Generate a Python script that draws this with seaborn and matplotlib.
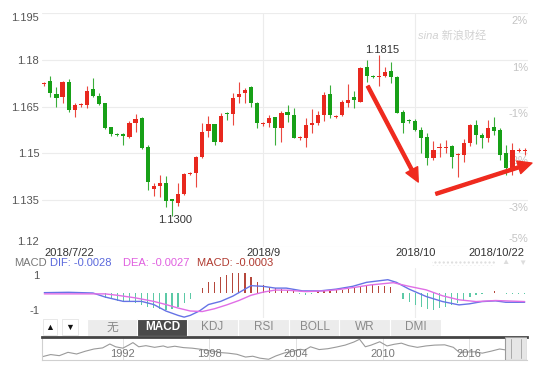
import numpy as np
import pandas as pd
import matplotlib.pyplot as plt
import matplotlib.transforms as mtrans
import seaborn as sns
from matplotlib.patches import Rectangle

sns.set_style('white')
plt.rcParams['font.family'] = ['Liberation Sans', 'Noto Sans CJK SC', 'DejaVu Sans']

W, H = 549, 367


def box(x0, y0, x1, y1):
    # pixel box -> figure fraction rect
    return [x0 / W, 1 - y1 / H, (x1 - x0) / W, (y1 - y0) / H]


# daily EUR/USD candles, 2018/7/22 - 2018/10/22
opens = [1.1722, 1.1733, 1.1691, 1.1680, 1.1730, 1.1639, 1.1654, 1.1656, 1.1707, 1.1684,
         1.1662, 1.1584, 1.1563, 1.1561, 1.1554, 1.1597, 1.1613, 1.1520, 1.1385, 1.1396,
         1.1406, 1.1352, 1.1342, 1.1370, 1.1434, 1.1438, 1.1489, 1.1573, 1.1594, 1.1538,
         1.1631, 1.1627, 1.1680, 1.1695, 1.1713, 1.1662, 1.1593, 1.1597, 1.1616, 1.1581,
         1.1634, 1.1623, 1.1548, 1.1549, 1.1592, 1.1599, 1.1623, 1.1691, 1.1618, 1.1623,
         1.1663, 1.1680, 1.1666, 1.1779, 1.1750, 1.1745, 1.1749, 1.1766, 1.1746, 1.1634,
         1.1605, 1.1604, 1.1575, 1.1552, 1.1484, 1.1516, 1.1516, 1.1524, 1.1495, 1.1495,
         1.1533, 1.1591, 1.1559, 1.1548, 1.1585, 1.1575, 1.1500, 1.1452, 1.1508, 1.1509]
highs = [1.1730, 1.1749, 1.1714, 1.1734, 1.1738, 1.1662, 1.1661, 1.1716, 1.1741, 1.1695,
         1.1663, 1.1586, 1.1566, 1.1566, 1.1605, 1.1627, 1.1618, 1.1527, 1.1404, 1.1431,
         1.1427, 1.1352, 1.1406, 1.1437, 1.1440, 1.1492, 1.1598, 1.1620, 1.1596, 1.1630,
         1.1633, 1.1693, 1.1730, 1.1709, 1.1717, 1.1665, 1.1601, 1.1623, 1.1617, 1.1637,
         1.1655, 1.1645, 1.1555, 1.1613, 1.1642, 1.1636, 1.1698, 1.1720, 1.1624, 1.1671,
         1.1722, 1.1701, 1.1778, 1.1800, 1.1751, 1.1815, 1.1778, 1.1795, 1.1750, 1.1639,
         1.1611, 1.1610, 1.1586, 1.1565, 1.1540, 1.1532, 1.1543, 1.1527, 1.1500, 1.1545,
         1.1594, 1.1607, 1.1565, 1.1607, 1.1618, 1.1582, 1.1527, 1.1532, 1.1516, 1.1518]
lows = [1.1718, 1.1682, 1.1650, 1.1662, 1.1634, 1.1618, 1.1649, 1.1646, 1.1682, 1.1655,
        1.1577, 1.1556, 1.1555, 1.1527, 1.1549, 1.1570, 1.1514, 1.1382, 1.1363, 1.1361,
        1.1327, 1.1300, 1.1331, 1.1367, 1.1431, 1.1392, 1.1485, 1.1552, 1.1527, 1.1537,
        1.1607, 1.1591, 1.1661, 1.1661, 1.1649, 1.1582, 1.1588, 1.1584, 1.1527, 1.1538,
        1.1602, 1.1548, 1.1544, 1.1522, 1.1565, 1.1590, 1.1605, 1.1613, 1.1615, 1.1620,
        1.1650, 1.1645, 1.1666, 1.1730, 1.1743, 1.1718, 1.1745, 1.1725, 1.1629, 1.1567,
        1.1598, 1.1573, 1.1500, 1.1463, 1.1480, 1.1490, 1.1500, 1.1452, 1.1425, 1.1473,
        1.1524, 1.1530, 1.1517, 1.1538, 1.1560, 1.1480, 1.1430, 1.1430, 1.1505, 1.1495]
closes = [1.1727, 1.1693, 1.1677, 1.1728, 1.1639, 1.1655, 1.1656, 1.1701, 1.1684, 1.1659,
          1.1583, 1.1561, 1.1558, 1.1555, 1.1599, 1.1610, 1.1518, 1.1409, 1.1396, 1.1406,
          1.1348, 1.1347, 1.1370, 1.1434, 1.1437, 1.1489, 1.1570, 1.1594, 1.1538, 1.1620,
          1.1626, 1.1677, 1.1691, 1.1704, 1.1662, 1.1598, 1.1596, 1.1613, 1.1581, 1.1631,
          1.1623, 1.1549, 1.1551, 1.1591, 1.1599, 1.1623, 1.1688, 1.1623, 1.1621, 1.1666,
          1.1671, 1.1672, 1.1773, 1.1749, 1.1745, 1.1748, 1.1762, 1.1746, 1.1631, 1.1599,
          1.1603, 1.1575, 1.1548, 1.1484, 1.1511, 1.1518, 1.1518, 1.1489, 1.1497, 1.1533,
          1.1591, 1.1559, 1.1549, 1.1581, 1.1573, 1.1495, 1.1452, 1.1511, 1.1510, 1.1511]

date_ticks = [0, 36, 61, 79]
date_labels = ['2018/7/22', '2018/9', '2018/10', '2018/10/22']
price_ticks = [1.12, 1.135, 1.15, 1.165, 1.18, 1.195]
price_labels = ['1.12', '1.135', '1.15', '1.165', '1.18', '1.195']
pct_labels = ['-5%', '-3%', '-2%', '-1%', '1%', '2%']

# MACD panel (normalised scale)
macd_hist = [0.05, 0.04, 0.05, 0.04, 0.02, 0.01, 0, 0, 0, -0.02,
             -0.3, -0.38, -0.45, -0.48, -0.55, -0.6, -0.68, -0.8, -0.88, -0.95,
             -1.0, -0.95, -0.8, -0.62, -0.38, 0, 0.29, 0.59, 0.63, 0.88,
             1.01, 1.1, 1.15, 1.1, 0.88, 0.6, 0.45, 0.32, 0.25, 0.2,
             0.15, 0.15, -0.1, -0.12, -0.08, 0.08, 0.1, 0.12, 0.15, 0.15,
             0.2, 0.25, 0.3, 0.38, 0.42, 0.4, 0.38, 0.3, 0, -0.38,
             -0.51, -0.7, -0.8, -0.95, -1.0, -0.9, -0.8, -0.7, -0.57, -0.42,
             -0.27, -0.13, -0.08, 0, 0.08, 0, -0.08, -0.08, -0.08, -0.08]
dif_x = [0, 4, 8, 10, 13, 16, 18, 20, 22, 23, 24, 25.5, 27, 29, 31, 33, 34, 36, 38,
         39.8, 42.5, 45.3, 48, 50.7, 53, 56.5, 57.9, 60, 62.8, 65.5, 68.2, 69.9, 72, 74.2, 75.9, 79]
dif_y = [0.0, 0.02, -0.02, -0.25, -0.5, -0.5, -0.68, -1.05, -1.3, -1.4, -1.3, -1.05, -0.68, -0.5,
         -0.2, 0.2, 0.4, 0.36, 0.26, 0.26, 0.1, 0.1, 0.2, 0.36, 0.59, 0.74, 0.59, 0.2, -0.22,
         -0.51, -0.7, -0.64, -0.51, -0.47, -0.55, -0.55]
dea_x = [0, 10, 12, 15, 18, 20, 22, 24, 26, 28, 30, 32, 34, 36, 38, 40, 43, 46, 48, 51,
         53.6, 57.4, 60, 62.8, 65.5, 68.2, 71, 74.2, 79]
dea_y = [-0.07, -0.07, -0.15, -0.3, -0.5, -0.68, -0.88, -1.05, -1.08, -0.92, -0.7, -0.45,
         -0.15, 0.03, 0.15, 0.14, 0.06, 0.1, 0.16, 0.3, 0.44, 0.57, 0.36, 0.16, -0.18, -0.41,
         -0.51, -0.45, -0.51]

# long-history navigator
nav_year = [1986.4, 1987.0, 1987.6, 1988.2, 1988.8, 1989.4, 1990.0, 1990.6, 1991.1, 1991.5,
            1992.0, 1992.4, 1992.7, 1993.1, 1993.6, 1994.2, 1994.8, 1995.1, 1995.6, 1996.2,
            1996.8, 1997.4, 1998.0, 1998.5, 1998.8, 1999.3, 1999.9, 2000.5, 2001.0, 2001.5,
            2002.1, 2002.6, 2003.2, 2003.8, 2004.3, 2004.6, 2005.0, 2005.6, 2006.2, 2006.8,
            2007.4, 2008.0, 2008.4, 2008.8, 2009.2, 2009.8, 2010.3, 2010.8, 2011.3, 2011.8,
            2012.4, 2013.0, 2013.6, 2014.3, 2014.9, 2015.3, 2015.8, 2016.4, 2016.9, 2017.5,
            2018.1, 2018.6, 2019.4]
nav_price = [0.94, 1.02, 0.98, 1.10, 1.04, 1.14, 1.22, 1.26, 1.40, 1.30,
             1.25, 1.36, 1.45, 1.30, 1.34, 1.28, 1.33, 1.28, 1.32, 1.27,
             1.25, 1.21, 1.16, 1.12, 1.09, 1.07, 1.03, 0.93, 0.96, 0.89,
             0.85, 0.97, 1.08, 1.14, 1.21, 1.18, 1.30, 1.20, 1.23, 1.29,
             1.36, 1.47, 1.57, 1.30, 1.36, 1.48, 1.33, 1.39, 1.43, 1.34,
             1.28, 1.33, 1.36, 1.37, 1.28, 1.10, 1.11, 1.12, 1.07, 1.14,
             1.22, 1.18, 1.17]
nav_years = [1992, 1998, 2004, 2010, 2016]

tabs = ['无', 'MACD', 'KDJ', 'RSI', 'BOLL', 'WR', 'DMI']

RED = '#e8281e'
GREEN = '#17a017'

fig = plt.figure(figsize=(W / 100, H / 100), dpi=100)

# ---------------- candles ----------------
ax = fig.add_axes(box(42, 13.3, 528, 246.8))
df = pd.DataFrame({'o': opens, 'h': highs, 'l': lows, 'c': closes})
df['x'] = np.arange(len(df))
cols = np.where(df['c'] >= df['o'], RED, GREEN)

for p in price_ticks:
    ax.axhline(p, color='#ececec', lw=0.8, zorder=0)
for d in date_ticks[1:3]:
    ax.axvline(d, color='#ececec', lw=0.8, zorder=0)

ax.vlines(df['x'], df['l'], df['h'], colors=cols, lw=0.8, alpha=0.85, zorder=2)
body = np.maximum((df['c'] - df['o']).abs(), 0.00035)
ax.bar(df['x'], body, bottom=np.minimum(df['o'], df['c']), width=0.68,
       color=cols, linewidth=0, zorder=3)

ax.set_xlim(-0.38, 79.55)
ax.set_ylim(1.12, 1.195)
ax.set_yticks(price_ticks)
ylabs = ax.set_yticklabels(price_labels)
ylabs[0].set_va('bottom')
ylabs[-1].set_va('top')
ax.set_xticks(date_ticks)
xlabs = ax.set_xticklabels(date_labels)
xlabs[0].set_ha('left')
xlabs[-1].set_ha('right')
ax.tick_params(axis='y', length=0, pad=2, labelsize=8, labelcolor='#555555')
ax.tick_params(axis='x', length=0, pad=1, labelsize=8, labelcolor='#333333')
sns.despine(ax=ax, left=True, bottom=True)

# percentage labels on the right, drawn inside the plot
ytr = mtrans.blended_transform_factory(ax.transAxes, ax.transData)
for p, lab in zip(price_ticks, pct_labels):
    if p == price_ticks[0]:
        ax.annotate(lab, xy=(1, p), xycoords=ytr, xytext=(0, 2), textcoords='offset points',
                    ha='right', va='bottom', fontsize=8, color='#c4c4c4', zorder=1)
    else:
        ax.annotate(lab, xy=(1, p), xycoords=ytr, xytext=(0, -2), textcoords='offset points',
                    ha='right', va='top', fontsize=8, color='#c4c4c4', zorder=1)

# high / low marks
ax.text(55.5, 1.1832, '1.1815', ha='center', va='center', fontsize=8, color='#333333')
ax.text(21.5, 1.1286, '1.1300', ha='center', va='center', fontsize=8, color='#333333')

# hand drawn red arrows
arrow = dict(arrowstyle='simple,head_length=1.0,head_width=0.95,tail_width=0.22',
             color='#ef2a1e', mutation_scale=10, shrinkA=0, shrinkB=0)
ax.annotate('', xy=(61.5, 1.1408), xytext=(53.2, 1.1716), arrowprops=arrow,
            annotation_clip=False, zorder=5)
ax.annotate('', xy=(80.2, 1.1469), xytext=(64.4, 1.1370), arrowprops=arrow,
            annotation_clip=False, zorder=5)

fig.text(418 / W, 1 - 35 / H, 'sina 新浪财经', fontsize=8, color='#d2d2d2',
         style='italic', va='center')

# little scroll widget above MACD panel
fig.patches.append(Rectangle((432 / W, 1 - 266 / H), 63 / W, 6 / H, transform=fig.transFigure,
                             fill=False, hatch='....', edgecolor='#dddddd', linewidth=0))
fig.text(505 / W, 1 - 263 / H, '▲', fontsize=6, color='#dddddd', ha='center', va='center')
fig.text(522 / W, 1 - 263 / H, '▼', fontsize=6, color='#dddddd', ha='center', va='center')

# ---------------- MACD ----------------
fig.text(14 / W, 1 - 262.5 / H, 'MACD', fontsize=8, color='#777777', va='center')
fig.text(50 / W, 1 - 262.5 / H, 'DIF: -0.0028', fontsize=8, color='#5a68dc', va='center')
fig.text(123 / W, 1 - 262.5 / H, 'DEA: -0.0027', fontsize=8, color='#e060e0', va='center')
fig.text(197 / W, 1 - 262.5 / H, 'MACD: -0.0003', fontsize=8, color='#b03a30', va='center')

ax2 = fig.add_axes(box(42, 268, 528, 318))
for d in date_ticks[1:3]:
    ax2.axvline(d, color='#ececec', lw=0.8, zorder=0)
hist = np.array(macd_hist)
ax2.bar(np.arange(len(hist)), hist, width=0.2, linewidth=0,
        color=np.where(hist >= 0, '#b5473b', '#5cc9a6'))
sns.lineplot(x=dif_x, y=dif_y, ax=ax2, color='#6673e6', lw=1, sort=False)
sns.lineplot(x=dea_x, y=dea_y, ax=ax2, color='#e06ee6', lw=1, sort=False)
ax2.set_xlim(-0.38, 79.55)
ax2.set_ylim(-1.45, 1.41)
ax2.set_xticks([])
ax2.set_yticks([1, -1])
ax2.set_yticklabels(['1', '-1'])
ax2.tick_params(axis='y', length=0, pad=2, labelsize=8, labelcolor='#555555')
sns.despine(ax=ax2, left=True, bottom=True)

# ---------------- indicator tabs ----------------
axt = fig.add_axes(box(42, 318, 528, 337))
axt.set_xlim(42, 528)
axt.set_ylim(337, 318)
axt.axis('off')
axt.add_patch(Rectangle((43, 319), 14, 16, facecolor='white', edgecolor='#e4e4e4', lw=0.6))
axt.add_patch(Rectangle((62, 319), 16, 16, facecolor='white', edgecolor='#e4e4e4', lw=0.6))
axt.text(50, 327, '▲', fontsize=6.5, ha='center', va='center', color='#111111')
axt.text(70, 327, '▼', fontsize=6.5, ha='center', va='center', color='#111111')
tab_left = [87, 137, 187, 238, 289, 339, 390]
for i, t in enumerate(tabs):
    active = t == 'MACD'
    axt.add_patch(Rectangle((tab_left[i], 318.5), 50.5, 17.5,
                            facecolor='#4a4a4a' if active else '#ececec',
                            edgecolor='white', lw=0.8))
    axt.text(tab_left[i] + 25.5, 327.5, t, ha='center', va='center', fontsize=8.5,
             color='white' if active else '#8a8a8a', fontweight='bold' if active else 'normal')

# ---------------- navigator ----------------
ax3 = fig.add_axes(box(42, 337, 527, 360))
for yr in nav_years:
    ax3.axvline(yr, color='#e2e2e2', lw=0.7, zorder=0)
sns.lineplot(x=nav_year, y=nav_price, ax=ax3, color='#9a9a9a', lw=0.8)
ax3.set_xlim(1986.4, 2020.0)
ax3.set_ylim(0.824, 1.652)
ax3.set_xticks([])
ax3.set_yticks([])
ax3.set_xlabel('')
ntr = mtrans.blended_transform_factory(ax3.transData, ax3.transAxes)
for yr in nav_years:
    ax3.text(yr, 0.27, str(yr), transform=ntr, ha='center', va='center',
             fontsize=8, color='#777777')
for s in ['left', 'bottom', 'right']:
    ax3.spines[s].set_color('#d0d0d0')
    ax3.spines[s].set_linewidth(0.8)
ax3.spines['right'].set_visible(False)
ax3.spines['top'].set_color('#444444')
ax3.spines['top'].set_linewidth(2)
ax3.add_patch(Rectangle((0.955, 0.0), 0.045, 1.0, transform=ax3.transAxes,
                        facecolor='#e6e6e6', edgecolor='#9a9a9a', lw=0.8, zorder=4))
for fx in [0.968, 0.987]:
    ax3.plot([fx, fx], [0.1, 0.9], transform=ax3.transAxes, color='#aaaaaa', lw=0.7, zorder=5)

plt.savefig('out.png', dpi=100)
